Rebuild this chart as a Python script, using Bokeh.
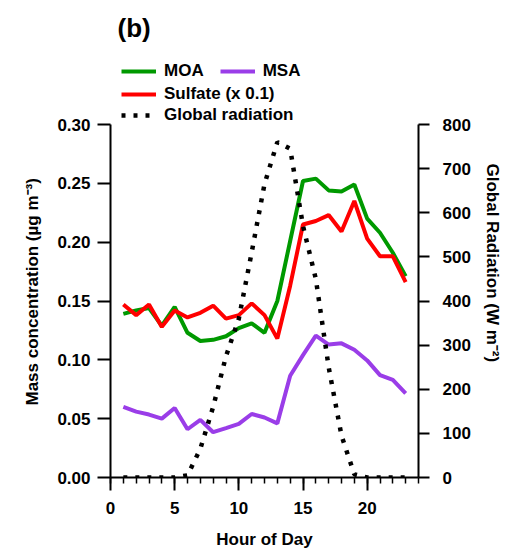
from bokeh.plotting import figure
from bokeh.models import (Range1d, LinearAxis, SingleIntervalTicker, FixedTicker, Legend,
                          LegendItem, Title, Label, NumeralTickFormatter)
from bokeh.embed import file_html
from bokeh.resources import INLINE

# ---------------- data ----------------
hours = list(range(1, 24))
moa = [0.139, 0.142, 0.144, 0.129, 0.145, 0.123, 0.116, 0.117, 0.120, 0.127, 0.131, 0.123,
       0.150, 0.201, 0.252, 0.254, 0.244, 0.243, 0.249, 0.220, 0.208, 0.191, 0.171]
sulfate = [0.147, 0.138, 0.147, 0.128, 0.142, 0.136, 0.140, 0.146, 0.135, 0.138, 0.148, 0.138,
           0.118, 0.163, 0.215, 0.218, 0.223, 0.209, 0.235, 0.203, 0.188, 0.188, 0.166]
msa = [0.060, 0.056, 0.0535, 0.050, 0.059, 0.041, 0.049, 0.0385, 0.042, 0.0456, 0.054, 0.051,
       0.046, 0.0865, 0.104, 0.1205, 0.113, 0.114, 0.1085, 0.0995, 0.087, 0.083, 0.0715]
radiation = [0, 0, 0, 0, 0, 5, 65, 160, 275, 360, 510, 665,
             760, 745, 570, 450, 250, 95, 7, 0, 0, 0, 0]

series_labels = ["MOA", "MSA", "Sulfate (x 0.1)", "Global radiation"]
left_ticks = [0.0, 0.05, 0.10, 0.15, 0.20, 0.25, 0.30]
right_ticks = [0, 100, 200, 300, 400, 500, 600, 700, 800]
panel_label = "(b)"
x_label = "Hour of Day"
left_label = "Mass concentration (µg m⁻³)"
right_label = "Global Radiation (W m⁻²)"

FONT = "Liberation Sans"
GREEN = "#009900"
RED = "#ff0000"
PURPLE = "#9a3de8"

# ---------------- geometry ----------------
W, H = 513, 554
L, R, B = 110, 95, 77
FRAME_BOTTOM = H - B          # pixel row of y = 0
AXIS_TOP = 124                # pixel row of the top of the axes (0.30 / 800)
LEFT_MAX, RIGHT_MAX = 0.30, 800
# the frame reaches the top of the canvas so the legend and panel label live inside it
y_end = LEFT_MAX * FRAME_BOTTOM / (FRAME_BOTTOM - AXIS_TOP)
r_end = RIGHT_MAX * FRAME_BOTTOM / (FRAME_BOTTOM - AXIS_TOP)
X0, X1 = 0, 24
fw = W - L - R


def px_to_x(px):
    return X0 + (px - L) / fw * (X1 - X0)


def py_to_y(py):
    return (FRAME_BOTTOM - py) / FRAME_BOTTOM * y_end


p = figure(width=W, height=H, output_backend="svg", toolbar_location=None,
           x_range=Range1d(X0, X1), y_range=Range1d(0, y_end),
           min_border_left=L, min_border_right=R, min_border_top=0, min_border_bottom=B)
p.outline_line_color = None
p.xgrid.visible = False
p.ygrid.visible = False
p.extra_y_ranges = {"rad": Range1d(0, r_end)}

r_moa = p.line(hours, moa, line_color=GREEN, line_width=4)
r_msa = p.line(hours, msa, line_color=PURPLE, line_width=4)
r_sul = p.line(hours, sulfate, line_color=RED, line_width=4)
r_rad = p.line(hours, radiation, line_color="black", line_width=4.5, line_dash="4 8",
               y_range_name="rad")


def style_axis(ax):
    ax.axis_line_width = 2
    ax.major_tick_line_width = 2
    ax.minor_tick_line_width = 1.5
    ax.major_label_text_font = FONT
    ax.major_label_text_font_style = "bold"
    ax.major_label_text_font_size = "17px"
    ax.major_label_text_color = "black"
    ax.axis_label_text_font = FONT
    ax.axis_label_text_font_style = "bold"
    ax.axis_label_text_font_size = "17px"
    ax.axis_label_text_color = "black"
    ax.major_tick_in = 0
    ax.minor_tick_in = 0


xa = p.xaxis[0]
xa.ticker = SingleIntervalTicker(interval=5, num_minor_ticks=5)
style_axis(xa)
xa.major_tick_out = 13
xa.minor_tick_out = 6
xa.major_label_standoff = 11
xa.axis_label = x_label
xa.axis_label_standoff = 13

ya = p.yaxis[0]
ya.ticker = FixedTicker(ticks=left_ticks)
ya.formatter = NumeralTickFormatter(format="0.00")
ya.bounds = (0, LEFT_MAX)
style_axis(ya)
ya.major_tick_out = 13
ya.minor_tick_out = 0
ya.major_label_standoff = 7
p.add_layout(Title(text=left_label, align="left", offset=72, standoff=26,
                   text_font=FONT, text_font_style="bold", text_font_size="17px",
                   text_color="black"), "left")

ra = LinearAxis(y_range_name="rad", ticker=FixedTicker(ticks=right_ticks), bounds=(0, RIGHT_MAX))
style_axis(ra)
ra.major_tick_out = 11
ra.minor_tick_out = 0
ra.major_label_standoff = 13
p.add_layout(ra, "right")
p.add_layout(Title(text=right_label, align="left", offset=163, standoff=18,
                   text_font=FONT, text_font_style="bold", text_font_size="17px",
                   text_color="black"), "right")


def make_legend(items, cy, gx):
    lg = Legend(items=items, orientation="horizontal",
                location=(gx - L, FRAME_BOTTOM - (cy + 10)),
                padding=0, margin=0, spacing=16, glyph_width=35, glyph_height=20,
                label_height=20, label_standoff=8, border_line_color=None,
                background_fill_alpha=0, label_text_font=FONT, label_text_font_style="bold",
                label_text_font_size="17px", label_text_color="black")
    p.add_layout(lg, "center")


make_legend([LegendItem(label=series_labels[0], renderers=[r_moa]),
             LegendItem(label=series_labels[1], renderers=[r_msa])], 71, 121)
make_legend([LegendItem(label=series_labels[2], renderers=[r_sul])], 93.5, 121)
make_legend([LegendItem(label=series_labels[3], renderers=[r_rad])], 115, 121)

p.add_layout(Label(x=px_to_x(117), y=py_to_y(12), text=panel_label, text_font=FONT,
                   text_font_style="bold", text_font_size="26px", text_align="left",
                   text_baseline="top", text_color="black"))

open("out.html", "w").write(file_html(p, INLINE))
